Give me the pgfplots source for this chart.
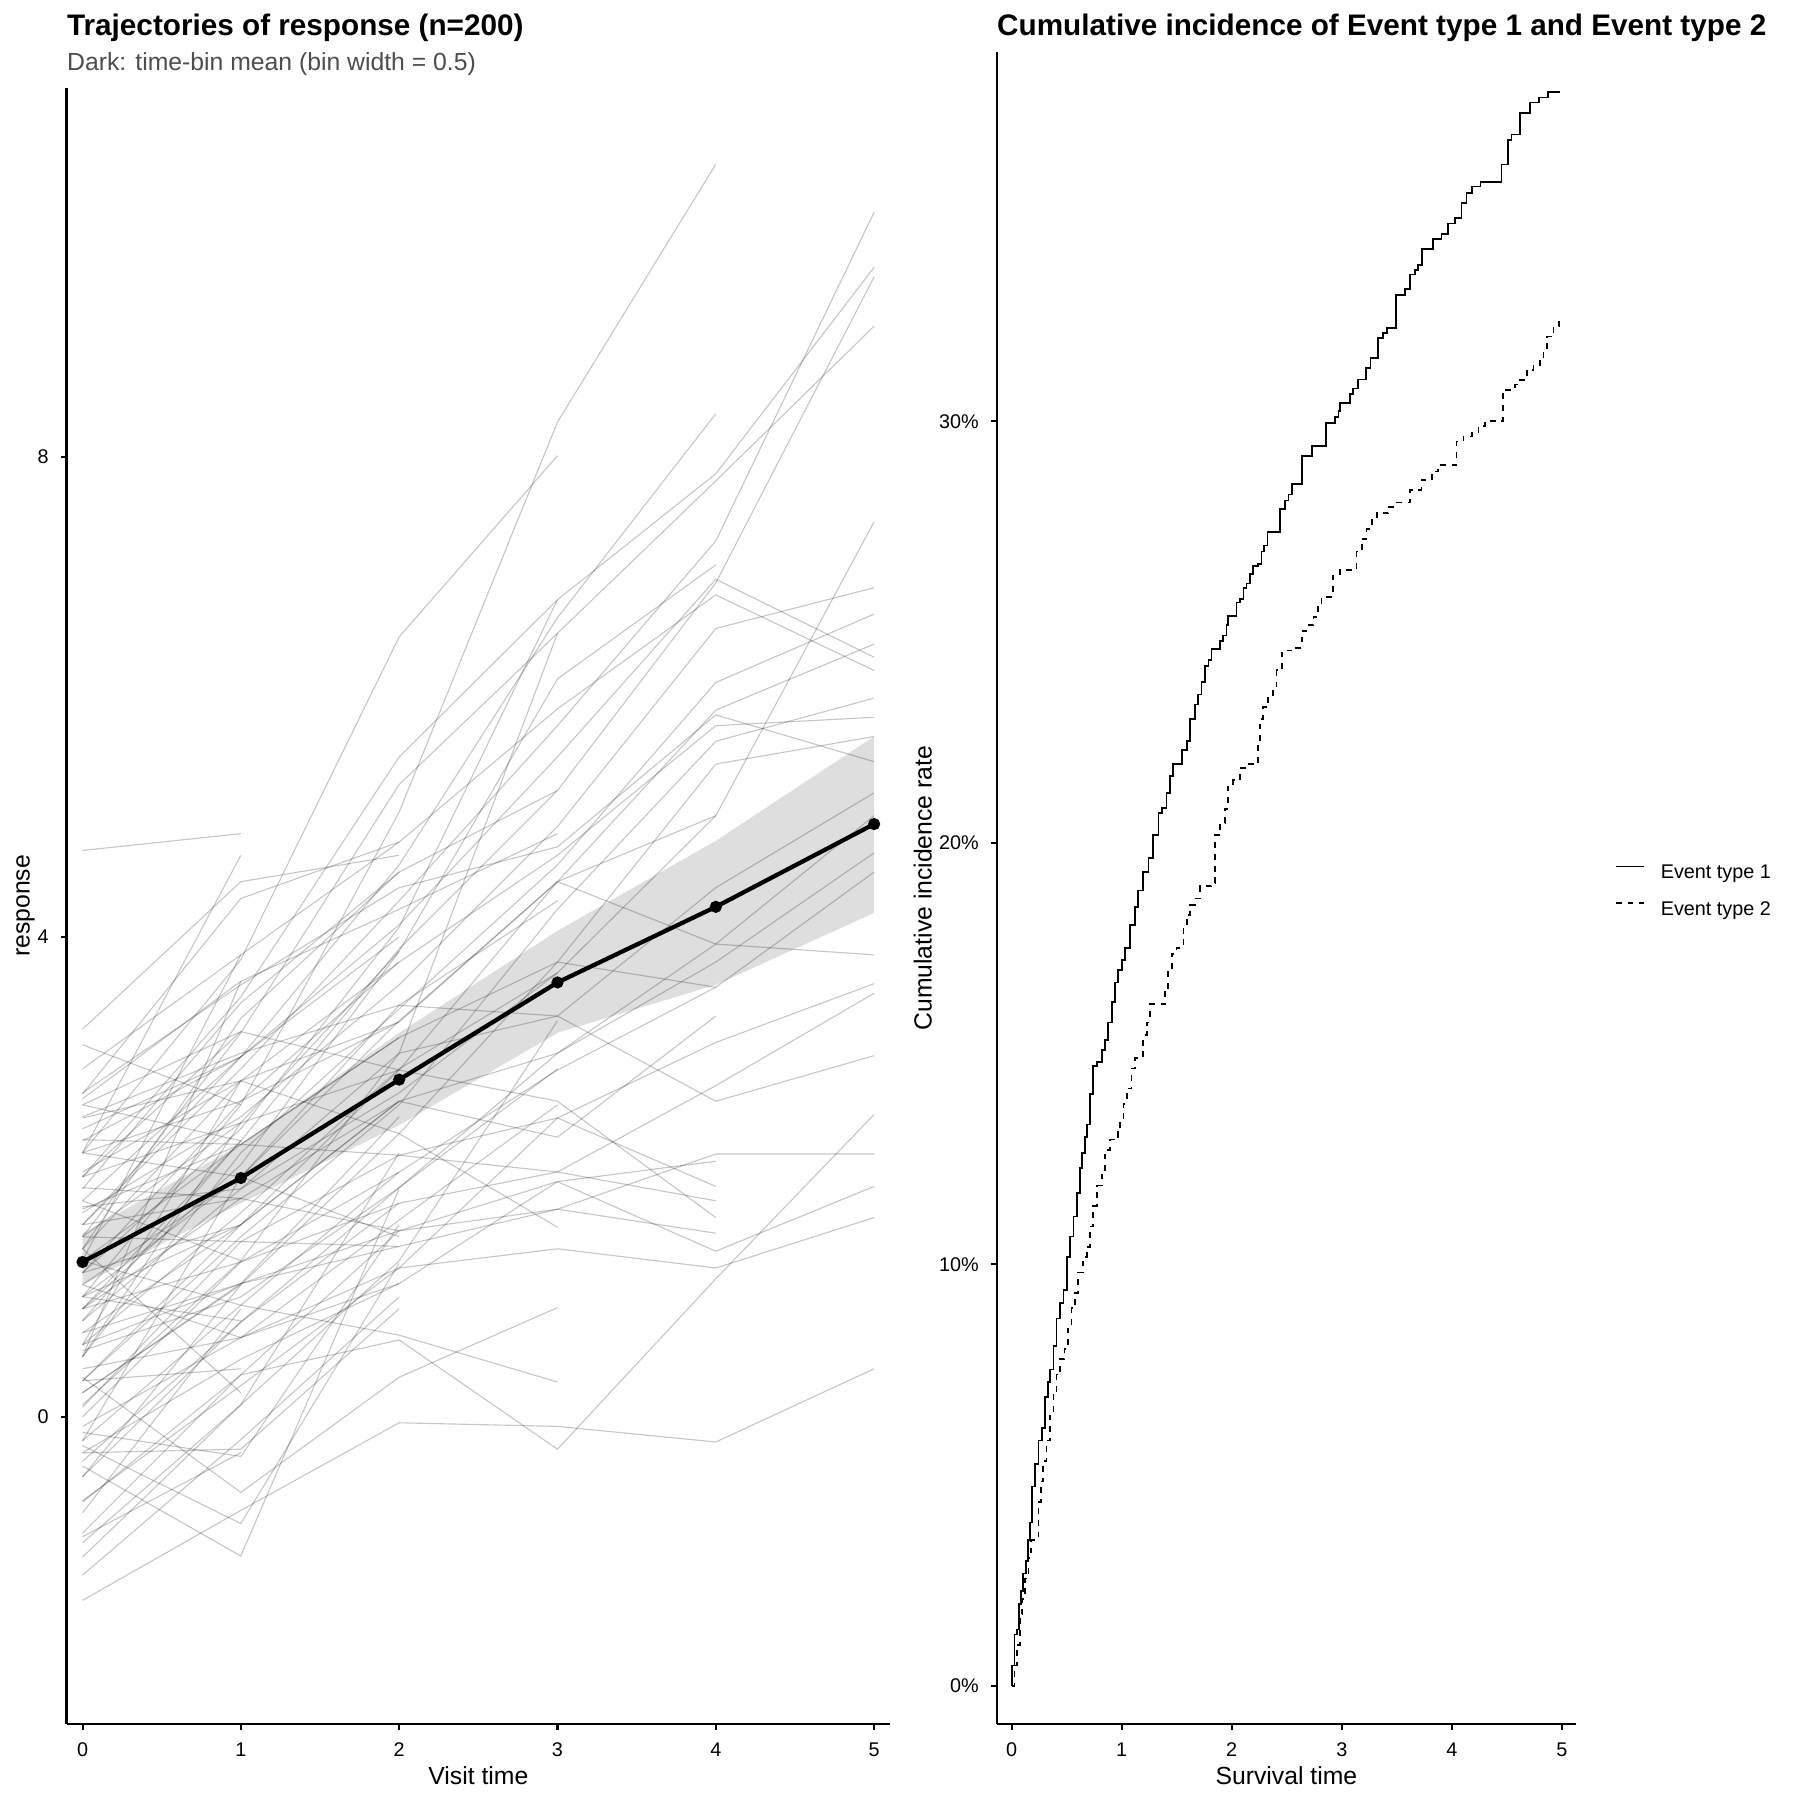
\documentclass[border=0pt]{standalone}
\usepackage{fontspec}
\setmainfont{Liberation Sans}
\usepackage{pgfplots}
\pgfplotsset{compat=1.18}
\definecolor{subgray}{HTML}{4D4D4D}
\newcommand\tickfont{\fontsize{8.8pt}{10pt}\selectfont}
\newcommand\labfont{\fontsize{11pt}{13pt}\selectfont}
\newcommand\titfont{\fontsize{13.2pt}{16pt}\selectfont\bfseries}
\pgfplotsset{
  gg/.style={scale only axis, anchor=south west,
    axis x line*=bottom, axis y line*=left,
    tick align=outside, major tick length=2.6pt,
    tick style={black, line width=0.9pt},
    axis line style={black, line width=1.1pt},
    /pgf/number format/assume math mode=true,
    xticklabel style={font=\tickfont, anchor=base, inner sep=0pt, yshift=-11.8pt},
    yticklabel style={font=\tickfont, anchor=east, inner sep=0pt, xshift=-5.2pt},
    xlabel style={font=\labfont, at={([yshift=-27.1pt]axis description cs:0.5,0)}, anchor=base, inner sep=0pt},
    ylabel style={font=\labfont, anchor=base, inner sep=0pt},
  },
  traj/.style={black, opacity=0.22, line width=0.5pt},
}
\begin{document}
\begin{tikzpicture}
\useasboundingbox (0,0) rectangle (800pt,800pt);
\node[anchor=base west, inner sep=0pt] at (29.64pt,784.1pt) {\titfont Trajectories of response (n=200)};
\node[anchor=base west, inner sep=0pt, text=subgray] at (29.64pt,768.7pt) {\labfont Dark: time-bin mean (bin width = 0.5)};
\node[anchor=base west, inner sep=0pt] at (443.0pt,784.1pt) {\titfont Cumulative incidence of Event type 1 and Event type 2};

% ---------------- left panel ----------------
\begin{axis}[gg, at={(29.64pt,33.8pt)}, width=365.9pt, height=727.1pt,
  xmin=-0.10, xmax=5.10, ymin=-2.56, ymax=11.075,
  xtick={0,1,2,3,4,5}, ytick={0,4,8},
  xlabel={Visit time}, ylabel={response},
  ylabel style={at={([xshift=-16.5pt]axis description cs:0,0.5)}},
]
% confidence band of the time-bin mean
\addplot[fill=black!13, draw=none] coordinates {(0,1.53)(1,2.27)(2,3.20)(3,4.05)(4,4.80)(5,5.67)(5,4.20)(4,3.60)(3,3.20)(2,2.43)(1,1.78)(0,1.10)} -- cycle;
% individual trajectories: reach visit 5
\addplot[traj] coordinates {(0,1.6)(1,2.9)(2,4.3)(3,5.76)(4,7.30)(5,10.04)};
\addplot[traj] coordinates {(0,2.0)(1,3.5)(2,5.5)(3,6.81)(4,7.86)(5,9.58)};
\addplot[traj] coordinates {(0,0.9)(1,2.3)(2,3.9)(3,5.22)(4,6.95)(5,9.50)};
\addplot[traj] coordinates {(0,1.5)(1,3.2)(2,5.27)(3,6.53)(4,7.80)(5,9.09)};
\addplot[traj] coordinates {(0,0.6)(1,1.7)(2,2.9)(3,3.7)(4,5.01)(5,7.46)};
\addplot[traj] coordinates {(0,1.7)(1,2.5)(2,3.6)(3,4.92)(4,6.57)(5,6.91)};
\addplot[traj] coordinates {(0,0.5)(1,2.2)(2,3.4)(3,4.6)(4,6.12)(5,6.69)};
\addplot[traj] coordinates {(0,2.3)(1,3.0)(2,4.1)(3,5.5)(4,6.98)(5,6.33)};
\addplot[traj] coordinates {(0,1.1)(1,2.0)(2,3.3)(3,4.46)(4,5.89)(5,6.44)};
\addplot[traj] coordinates {(0,0.3)(1,1.5)(2,2.6)(3,4.23)(4,5.63)(5,5.99)};
\addplot[traj] coordinates {(0,1.4)(1,2.8)(2,3.79)(3,4.68)(4,5.76)(5,5.83)};
\addplot[traj] coordinates {(0,0.2)(1,1.1)(2,2.36)(3,3.79)(4,5.44)(5,5.67)};
\addplot[traj] coordinates {(0,2.7)(1,3.6)(2,4.41)(3,4.75)(4,5.85)(5,5.46)};
\addplot[traj] coordinates {(0,0.8)(1,1.9)(2,3.03)(3,3.34)(4,4.41)(5,5.20)};
\addplot[traj] coordinates {(0,-0.5)(1,0.79)(2,1.91)(3,3.03)(4,3.94)(5,5.01)};
\addplot[traj] coordinates {(0,1.0)(1,1.6)(2,2.63)(3,3.03)(4,3.79)(5,4.70)};
\addplot[traj] coordinates {(0,-0.2)(1,0.93)(2,2.04)(3,2.89)(4,3.58)(5,4.54)};
\addplot[traj] coordinates {(0,2.2)(1,2.63)(2,3.29)(3,4.46)(4,3.94)(5,3.85)};
\addplot[traj] coordinates {(0,1.3)(1,2.27)(2,2.18)(3,2.49)(4,3.12)(5,3.61)};
\addplot[traj] coordinates {(0,0.0)(1,1.29)(2,1.78)(3,2.04)(4,2.76)(5,3.53)};
\addplot[traj] coordinates {(0,2.5)(1,3.03)(2,3.43)(3,3.34)(4,2.63)(5,3.01)};
\addplot[traj] coordinates {(0,-0.97)(1,0.35)(2,0.64)(3,-0.27)(4,1.15)(5,2.52)};
\addplot[traj] coordinates {(0,0.7)(1,1.11)(2,1.42)(3,1.73)(4,2.19)(5,2.19)};
\addplot[traj] coordinates {(0,1.6)(1,1.82)(2,1.55)(3,1.96)(4,1.38)(5,1.92)};
\addplot[traj] coordinates {(0,0.4)(1,0.66)(2,1.24)(3,1.40)(4,1.24)(5,1.66)};
\addplot[traj] coordinates {(0,-1.53)(1,-0.78)(2,-0.05)(3,-0.08)(4,-0.21)(5,0.40)};
\addplot[traj] coordinates {(0,2.9)(1,3.85)(2,4.79)(3,5.9)(4,6.85)(5,6.22)};
% reach visit 4
\addplot[traj] coordinates {(0,1.0)(1,2.6)(2,5.04)(3,8.29)(4,10.44)};
\addplot[traj] coordinates {(0,1.8)(1,3.0)(2,4.6)(3,6.66)(4,8.36)};
\addplot[traj] coordinates {(0,0.9)(1,2.1)(2,3.88)(3,6.15)(4,7.10)};
\addplot[traj] coordinates {(0,2.0)(1,2.45)(2,2.89)(3,4.46)(4,5.01)};
\addplot[traj] coordinates {(0,0.3)(1,1.60)(2,2.63)(3,2.33)(4,3.34)};
\addplot[traj] coordinates {(0,-0.3)(1,0.48)(2,1.11)(3,1.96)(4,2.13)};
\addplot[traj] coordinates {(0,1.5)(1,1.46)(2,2.18)(3,2.04)(4,1.80)};
\addplot[traj] coordinates {(0,0.6)(1,1.11)(2,1.55)(3,1.73)(4,1.53)};
\addplot[traj] coordinates {(0,2.6)(1,3.21)(2,2.89)(3,2.63)(4,1.66)};
\addplot[traj] coordinates {(0,-0.7)(1,0.26)(2,1.24)(3,2.49)(4,1.92)};
\addplot[traj] coordinates {(0,1.73)(1,2.27)(2,3.16)(3,3.79)(4,3.58)};
% reach visit 3
\addplot[traj] coordinates {(0,2.2)(1,3.81)(2,6.50)(3,8.01)};
\addplot[traj] coordinates {(0,1.2)(1,2.4)(2,4.08)(3,6.81)};
\addplot[traj] coordinates {(0,0.1)(1,1.3)(2,3.03)(3,6.53)};
\addplot[traj] coordinates {(0,1.9)(1,3.45)(2,4.54)(3,5.22)};
\addplot[traj] coordinates {(0,0.33)(1,-0.63)(2,0.33)(3,0.91)};
\addplot[traj] coordinates {(0,1.3)(1,0.93)(2,0.68)(3,0.29)};
\addplot[traj] coordinates {(0,2.65)(1,3.63)(2,4.23)(3,4.86)};
\addplot[traj] coordinates {(0,1.0)(1,2.0)(2,3.43)(3,4.3)};
\addplot[traj] coordinates {(0,0.55)(1,1.0)(2,1.91)(3,2.9)};
\addplot[traj] coordinates {(0,-0.08)(1,0.66)(2,1.64)(3,2.6)};
\addplot[traj] coordinates {(0,2.04)(1,2.8)(2,2.36)(3,1.58)};
\addplot[traj] coordinates {(0,1.75)(1,1.9)(2,2.7)(3,3.7)};
\addplot[traj] coordinates {(0,-1.05)(1,0.1)(2,1.3)(3,3.3)};
% reach visit 2
\addplot[traj] coordinates {(0,3.23)(1,4.46)(2,4.68)};
\addplot[traj] coordinates {(0,2.69)(1,4.32)(2,4.79)};
\addplot[traj] coordinates {(0,1.4)(1,3.32)(2,4.54)};
\addplot[traj] coordinates {(0,0.5)(1,2.45)(2,3.88)};
\addplot[traj] coordinates {(0,2.49)(1,2.8)(2,3.29)};
\addplot[traj] coordinates {(0,1.91)(1,1.82)(2,2.63)};
\addplot[traj] coordinates {(0,0.9)(1,1.29)(2,2.04)};
\addplot[traj] coordinates {(0,-0.37)(1,0.79)(2,1.78)};
\addplot[traj] coordinates {(0,0.08)(1,1.46)(2,1.42)};
\addplot[traj] coordinates {(0,1.1)(1,0.66)(2,1.11)};
\addplot[traj] coordinates {(0,-0.24)(1,-0.89)(2,1.28)};
\addplot[traj] coordinates {(0,-0.41)(1,-1.16)(2,1.9)};
\addplot[traj] coordinates {(0,-0.30)(1,-0.27)(2,0.9)};
\addplot[traj] coordinates {(0,-0.13)(1,-0.33)(2,1.6)};
\addplot[traj] coordinates {(0,-1.32)(1,-0.19)(2,1.0)};
\addplot[traj] coordinates {(0,-1.17)(1,0.1)(2,2.2)};
\addplot[traj] coordinates {(0,2.31)(1,2.27)(2,3.16)};
\addplot[traj] coordinates {(0,1.2)(1,2.63)(2,3.79)};
\addplot[traj] coordinates {(0,0.7)(1,1.6)(2,2.89)};
\addplot[traj] coordinates {(0,-0.71)(1,0.35)(2,1.55)};
\addplot[traj] coordinates {(0,0.2)(1,1.11)(2,2.5)};
\addplot[traj] coordinates {(0,1.6)(1,3.0)(2,4.0)};
\addplot[traj] coordinates {(0,2.2)(1,2.0)(2,1.5)};
% reach visit 1
\addplot[traj] coordinates {(0,4.72)(1,4.86)};
\addplot[traj] coordinates {(0,2.2)(1,4.68)};
\addplot[traj] coordinates {(0,1.3)(1,3.85)};
\addplot[traj] coordinates {(0,0.5)(1,3.63)};
\addplot[traj] coordinates {(0,2.0)(1,3.21)};
\addplot[traj] coordinates {(0,1.5)(1,2.45)};
\addplot[traj] coordinates {(0,0.9)(1,1.82)};
\addplot[traj] coordinates {(0,2.6)(1,2.3)};
\addplot[traj] coordinates {(0,-0.5)(1,1.1)};
\addplot[traj] coordinates {(0,1.0)(1,0.8)};
\addplot[traj] coordinates {(0,-1.0)(1,-0.3)};
\addplot[traj] coordinates {(0,0.3)(1,0.4)};
\addplot[traj] coordinates {(0,1.8)(1,1.3)};
\addplot[traj] coordinates {(0,-0.2)(1,2.0)};
\addplot[traj] coordinates {(0,0.6)(1,2.8)};
\addplot[traj] coordinates {(0,2.4)(1,3.0)};
\addplot[traj] coordinates {(0,1.2)(1,1.6)};
\addplot[traj] coordinates {(0,-0.8)(1,0.9)};
\addplot[traj] coordinates {(0,1.4)(1,0.2)};
\addplot[traj] coordinates {(0,3.1)(1,2.6)};
\addplot[traj] coordinates {(0,0.8)(1,2.3)};
% time-bin mean
\addplot[black, line width=1.9pt, mark=*, mark size=1.7pt] coordinates {(0,1.29)(1,1.99)(2,2.81)(3,3.62)(4,4.25)(5,4.94)};
\end{axis}

% ---------------- right panel ----------------
\begin{axis}[gg, at={(443.0pt,33.8pt)}, width=257.4pt, height=742.9pt,
  xmin=-0.134, xmax=5.127, ymin=-0.90, ymax=38.75,
  xtick={0,1,2,3,4,5}, ytick={0,10,20,30}, yticklabels={0\%,10\%,20\%,30\%},
  xlabel={Survival time}, ylabel={Cumulative incidence rate},
  ylabel style={at={([xshift=-28.9pt]axis description cs:0,0.5)}},
  legend style={at={(axis description cs:1.0676,0.5138)}, anchor=north west, draw=none, fill=none,
    font=\tickfont, inner sep=0pt, outer sep=0pt, row sep=8.5pt, column sep=7.0pt,
    nodes={inner sep=0pt}},
  legend cell align=left,
  legend image code/.code={\draw[#1] (0pt,3.1pt) -- (12.6pt,3.1pt);},
]
\addplot[black, line width=0.75pt, const plot] coordinates {
(0,0)(0.007,0.49)(0.026,1.22)(0.047,1.34)(0.068,1.94)(0.086,2.25)(0.107,2.67)(0.129,2.97)(0.147,3.46)
(0.168,3.88)(0.189,4.73)(0.213,5.27)(0.244,5.82)(0.274,6.12)(0.304,6.85)(0.329,7.21)(0.350,7.51)(0.380,8.06)
(0.410,8.72)(0.441,9.08)(0.471,9.39)(0.501,10.18)(0.531,10.66)(0.562,11.14)(0.592,11.69)(0.622,12.29)
(0.643,12.65)(0.668,13.02)(0.683,13.32)(0.713,14.05)(0.743,14.71)(0.774,14.80)(0.819,15.08)(0.849,15.32)
(0.879,15.74)(0.910,16.23)(0.940,16.69)(0.970,16.98)(1.001,17.22)(1.031,17.51)(1.076,18.05)(1.122,18.48)
(1.152,18.87)(1.197,19.31)(1.243,19.64)(1.288,20.18)(1.334,20.71)(1.364,20.83)(1.409,21.19)(1.440,21.58)
(1.470,21.87)(1.546,22.21)(1.591,22.41)(1.621,22.94)(1.667,23.28)(1.697,23.52)(1.727,23.81)(1.757,24.20)
(1.788,24.34)(1.818,24.60)(1.894,24.78)(1.924,24.92)(1.954,25.16)(1.969,25.38)(2.045,25.70)(2.075,25.79)
(2.106,26.04)(2.136,26.15)(2.166,26.38)(2.196,26.57)(2.242,26.62)(2.272,26.91)(2.293,27.05)(2.324,27.37)
(2.439,27.92)(2.484,28.12)(2.515,28.26)(2.545,28.51)(2.636,29.18)(2.727,29.41)(2.857,29.96)(2.938,30.10)
(2.969,30.25)(2.984,30.44)(3.075,30.64)(3.105,30.78)(3.150,30.99)(3.220,31.26)(3.262,31.50)(3.332,31.97)
(3.377,32.09)(3.408,32.21)(3.492,33.00)(3.574,33.14)(3.619,33.48)(3.665,33.59)(3.695,33.71)(3.726,34.09)
(3.831,34.32)(3.907,34.45)(3.967,34.69)(4.028,34.82)(4.088,35.18)(4.134,35.41)(4.180,35.57)(4.261,35.67)
(4.451,36.09)(4.513,36.68)(4.543,36.80)(4.618,37.31)(4.710,37.56)(4.794,37.68)(4.876,37.81)(4.98,37.81)};
\addlegendentry{Event type 1}
\addplot[black, line width=0.75pt, dash pattern=on 2.6pt off 2.6pt, const plot] coordinates {
(0,0)(0.026,0.49)(0.047,0.98)(0.077,1.70)(0.098,2.06)(0.123,2.55)(0.153,3.03)(0.177,3.46)(0.244,4.37)
(0.268,4.85)(0.289,5.33)(0.319,5.82)(0.350,6.42)(0.380,6.91)(0.410,7.39)(0.441,7.75)(0.480,8.00)(0.516,8.48)
(0.546,8.96)(0.577,9.33)(0.607,9.81)(0.652,10.18)(0.683,10.42)(0.713,10.90)(0.743,11.39)(0.774,11.87)
(0.819,12.23)(0.849,12.72)(0.895,12.96)(0.970,13.14)(0.985,13.44)(1.016,13.81)(1.046,14.17)(1.091,14.65)
(1.122,14.89)(1.197,15.44)(1.228,15.74)(1.258,16.17)(1.394,16.53)(1.424,17.03)(1.455,17.37)(1.500,17.51)
(1.561,18.00)(1.591,18.29)(1.621,18.53)(1.667,18.68)(1.712,18.97)(1.818,19.05)(1.848,20.18)(1.894,20.47)
(1.939,20.81)(1.969,21.34)(2.015,21.49)(2.075,21.77)(2.136,21.87)(2.242,22.36)(2.257,22.94)(2.287,23.23)
(2.333,23.47)(2.378,23.71)(2.408,24.10)(2.454,24.56)(2.559,24.63)(2.636,25.02)(2.681,25.16)(2.742,25.36)
(2.787,25.65)(2.817,25.84)(2.923,26.38)(2.984,26.47)(3.135,26.91)(3.181,27.20)(3.226,27.44)(3.272,27.68)
(3.317,27.83)(3.423,27.97)(3.483,28.07)(3.619,28.37)(3.725,28.61)(3.817,28.81)(3.877,28.97)(4.043,29.52)
(4.105,29.64)(4.180,29.72)(4.241,29.88)(4.301,30.01)(4.467,30.75)(4.574,30.87)(4.620,30.98)(4.680,31.22)
(4.741,31.34)(4.801,31.46)(4.832,31.66)(4.862,32.01)(4.923,32.25)(4.974,32.39)};
\addlegendentry{Event type 2}
\end{axis}
\end{tikzpicture}
\end{document}
